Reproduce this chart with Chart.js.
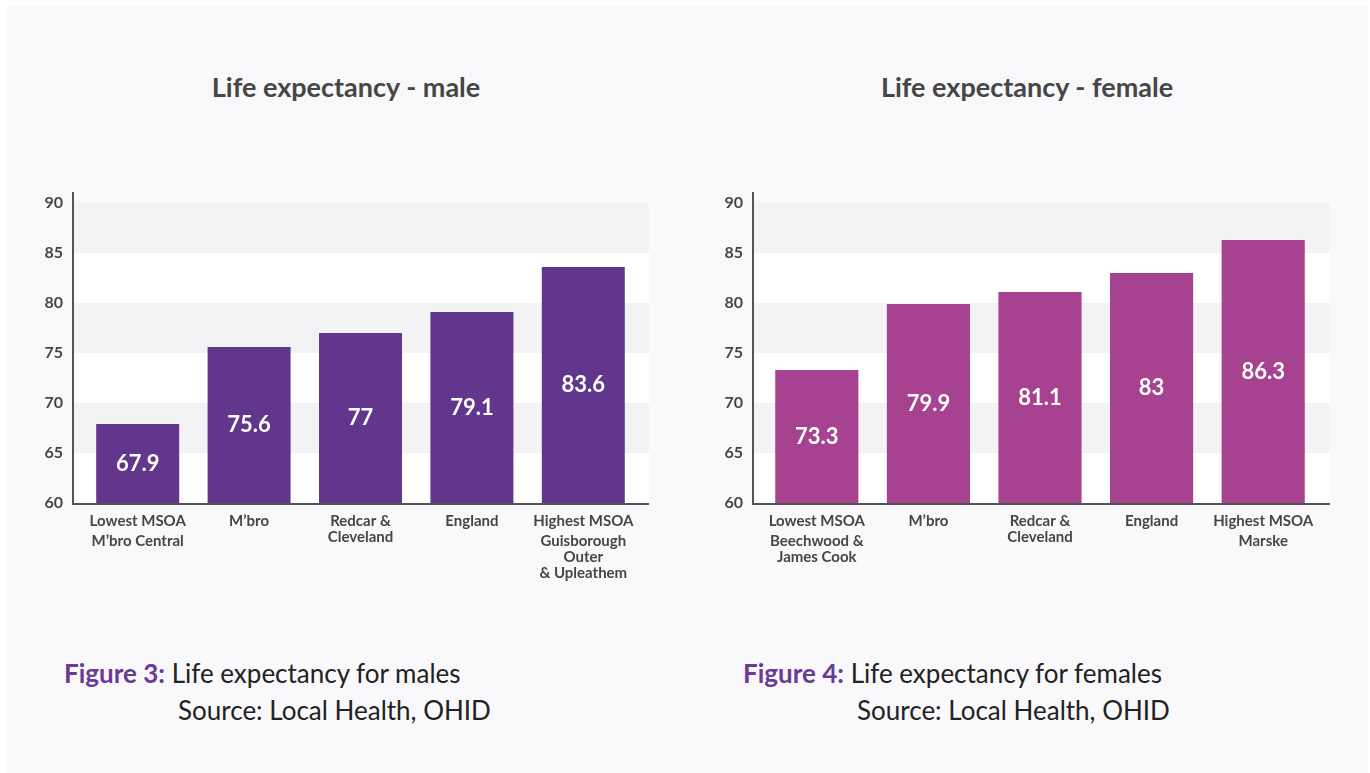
<!DOCTYPE html>
<html>
<head>
<meta charset="utf-8">
<script src="https://cdn.jsdelivr.net/npm/chart.js@4.4.1/dist/chart.umd.min.js"></script>
<style>
  body { margin: 0; background: #ffffff; font-family: Lato, sans-serif; }
  #panel { position: absolute; left: 6px; top: 7px; width: 1362px; height: 766px; background: #f9f9fb; }
  .chart-box { position: absolute; top: 10px; }
  .title { position: absolute; top: 73px; width: 500px; text-align: center; font-weight: 700; font-size: 27px; line-height: 27px; color: #464646; }
  .caption { position: absolute; font-size: 26px; color: #222; line-height: 37px; }
  .caption b { color: #6a3a97; }
  .caption .src { padding-left: 114px; }
</style>
</head>
<body>
<div id="panel"></div>
<div class="title" style="left: 96px;">Life expectancy - male</div>
<div class="title" style="left: 777px;">Life expectancy - female</div>
<div class="chart-box" style="left: 10px;"><canvas id="male-canvas" width="660" height="600"></canvas></div>
<div class="chart-box" style="left: 690px;"><canvas id="female-canvas" width="660" height="600"></canvas></div>
<div class="caption" style="left: 64px; top: 655px;"><b>Figure 3:</b> Life expectancy for males<div class="src">Source: Local Health, OHID</div></div>
<div class="caption" style="left: 743px; top: 655px;"><b>Figure 4:</b> Life expectancy for females<div class="src">Source: Local Health, OHID</div></div>
<script>
// chart data
const categories = ['Lowest MSOA', 'M’bro', ['Redcar &', 'Cleveland'], 'England', 'Highest MSOA'];
const maleAreas = [['M’bro Central'], [], [], [], ['Guisborough', 'Outer', '& Upleathem']];
const femaleAreas = [['Beechwood &', 'James Cook'], [], [], [], ['Marske']];
const maleValues = [67.9, 75.6, 77, 79.1, 83.6];
const femaleValues = [73.3, 79.9, 81.1, 83, 86.3];
const yTicks = [60, 65, 70, 75, 80, 85, 90];

const textColor = '#464646';
const axisColor = '#555555';

// alternating bands behind the bars + axis lines on top
const bandsPlugin = {
    id: 'bands',
    beforeDatasetsDraw(chart, args, opts) {
        const { ctx, chartArea, scales } = chart;
        const x0 = chartArea.left - opts.extLeft;
        const x1 = chartArea.right + opts.extRight;
        ctx.save();
        for (let i = 0; i < yTicks.length - 1; i++) {
            const top = scales.y.getPixelForValue(yTicks[i + 1]);
            const bottom = scales.y.getPixelForValue(yTicks[i]);
            const fromTop = (yTicks[yTicks.length - 1] - yTicks[i + 1]) / 5;
            ctx.fillStyle = fromTop % 2 === 0 ? '#f3f2f5' : '#ffffff';
            ctx.fillRect(x0, top, x1 - x0, bottom - top);
        }
        ctx.restore();
    },
    afterDatasetsDraw(chart, args, opts) {
        const { ctx, chartArea } = chart;
        const x0 = chartArea.left - opts.extLeft;
        const x1 = chartArea.right + opts.extRight;
        ctx.save();
        ctx.strokeStyle = axisColor;
        ctx.lineWidth = 2;
        ctx.beginPath();
        ctx.moveTo(x0, chartArea.top - 11);
        ctx.lineTo(x0, chartArea.bottom + 1);
        ctx.lineTo(x1, chartArea.bottom + 1);
        ctx.stroke();
        ctx.restore();
    }
};

// value labels inside bars and multi-line category labels
const labelsPlugin = {
    id: 'barLabels',
    afterDraw(chart, args, opts) {
        const { ctx, chartArea, scales } = chart;
        const values = chart.data.datasets[0].data;
        ctx.save();
        ctx.textAlign = 'center';
        ctx.textBaseline = 'middle';
        ctx.fillStyle = '#ffffff';
        ctx.font = '700 22px Lato';
        values.forEach(function(v, i) {
            const x = scales.x.getPixelForValue(i);
            const y = scales.y.getPixelForValue((v + scales.y.min) / 2);
            ctx.fillText(String(v), x, y);
        });

        ctx.fillStyle = textColor;
        ctx.font = '700 15px Lato';
        categories.forEach(function(cat, i) {
            const x = scales.x.getPixelForValue(i);
            let y = chartArea.bottom + 18;
            const lines = Array.isArray(cat) ? cat : [cat];
            lines.forEach(function(line, j) {
                ctx.fillText(line, x, y);
                if (j < lines.length - 1) y += 16;
            });
            y += 20;
            opts.areas[i].forEach(function(line) {
                ctx.fillText(line, x, y);
                y += 16;
            });
        });
        ctx.restore();
    }
};

function makeChart(canvasId, values, areas, color, yWidth, padRight, extLeft, extRight) {
    const ctx = document.getElementById(canvasId).getContext('2d');
    return new Chart(ctx, {
        type: 'bar',
        data: {
            labels: categories,
            datasets: [{
                data: values,
                backgroundColor: color,
                borderWidth: 0,
                barPercentage: 0.745,
                categoryPercentage: 1,
            }],
        },
        options: {
            responsive: false,
            animation: false,
            layout: { padding: { top: 193, bottom: 107, left: 0, right: padRight } },
            plugins: {
                legend: { display: false },
                tooltip: { enabled: false },
                bands: { extLeft: extLeft, extRight: extRight },
                barLabels: { areas: areas },
            },
            scales: {
                x: { display: false },
                y: {
                    min: 60,
                    max: 90,
                    afterFit: function(scale) { scale.width = yWidth; },
                    afterBuildTicks: function(scale) {
                        scale.ticks = yTicks.map(function(v) { return { value: v }; });
                    },
                    border: { display: false },
                    grid: { display: false, drawTicks: false },
                    ticks: {
                        padding: extLeft + 10,
                        color: textColor,
                        font: { family: 'Lato', size: 16, weight: '700' },
                    },
                },
            },
        },
        plugins: [bandsPlugin, labelsPlugin],
    });
}

makeChart('male-canvas', maleValues, maleAreas, '#62368c', 72, 31, 9, 10);
makeChart('female-canvas', femaleValues, femaleAreas, '#a64290', 71, 31, 8, 11);
</script>
</body>
</html>
